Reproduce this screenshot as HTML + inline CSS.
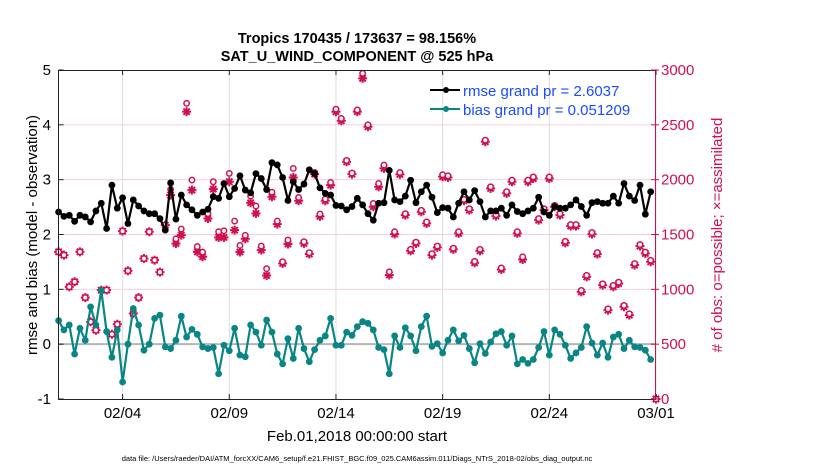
<!DOCTYPE html>
<html><head><meta charset="utf-8"><style>
html,body{margin:0;padding:0;background:#fff;}
svg{display:block;font-family:"Liberation Sans",Arial,sans-serif;}
</style></head><body>
<svg id="chart" width="830" height="470" viewBox="0 0 830 470" xmlns="http://www.w3.org/2000/svg">
<rect width="830" height="470" fill="#fff"/>
<text x="357" y="43" text-anchor="middle" font-size="14.5" font-weight="bold">Tropics 170435 / 173637 = 98.156%</text>
<text x="357" y="61" text-anchor="middle" font-size="14.5" font-weight="bold">SAT_U_WIND_COMPONENT @ 525 hPa</text>
<g id="grid"></g>
<g id="marks"></g>
<rect x="58.5" y="70.5" width="597" height="329" fill="none" stroke="#222" stroke-width="1"/>
<line x1="655.5" y1="70" x2="655.5" y2="400" stroke="#d0104c" stroke-width="1"/>
<g id="axes"></g>
<text transform="translate(37,235) rotate(-90)" text-anchor="middle" font-size="15">rmse and bias (model - observation)</text>
<text transform="translate(722,235) rotate(-90)" text-anchor="middle" font-size="15" fill="#d0104c"># of obs: o=possible; ×=assimilated</text>
<text x="357" y="441" text-anchor="middle" font-size="15">Feb.01,2018 00:00:00 start</text>
<text x="357" y="461" text-anchor="middle" font-size="7.5">data file: /Users/raeder/DAI/ATM_forcXX/CAM6_setup/f.e21.FHIST_BGC.f09_025.CAM6assim.011/Diags_NTrS_2018-02/obs_diag_output.nc</text>
<g>
<line x1="430" y1="90" x2="460" y2="90" stroke="#000" stroke-width="2"/>
<circle cx="446" cy="90" r="3" fill="#000"/>
<text x="463" y="96" font-size="15" fill="#1a4cff">rmse grand pr = 2.6037</text>
<line x1="430" y1="109" x2="460" y2="109" stroke="#0a8585" stroke-width="2"/>
<circle cx="446" cy="109" r="3" fill="#0a8585"/>
<text x="463" y="115" font-size="15" fill="#1a4cff">bias grand pr = 0.051209</text>
</g>
</svg>
<script>
const rmse=[2.41,2.33,2.35,2.24,2.35,2.32,2.23,2.43,2.57,2.11,2.9,2.48,2.67,2.2,2.63,2.52,2.43,2.38,2.38,2.29,2.08,2.94,2.28,2.72,2.54,2.45,2.35,2.41,2.46,
2.69,2.66,2.93,2.69,2.84,3.07,2.81,2.76,3.11,3.02,2.82,3.31,3.27,3.04,2.62,2.96,2.82,2.92,3.18,3.11,2.85,2.75,2.72,2.53,2.52,2.45,2.51,2.66,
2.54,2.38,2.26,2.57,2.58,3.17,2.63,2.6,2.7,2.99,2.58,2.78,2.9,2.68,2.4,2.49,2.48,2.32,2.57,2.78,2.63,2.8,2.6,2.32,2.43,2.43,2.48,2.35,
2.54,2.42,2.38,2.43,2.48,2.68,2.41,2.35,2.51,2.48,2.48,2.54,2.63,2.51,2.35,2.58,2.6,2.57,2.57,2.7,2.57,2.93,2.7,2.62,2.9,2.37,2.78];
const bias=[0.43,0.26,0.35,-0.18,0.29,0.07,0.68,0.35,0.98,0.23,-0.24,0.26,-0.69,0,0.65,0.35,-0.11,0,0.47,0.53,-0.05,-0.08,0.07,0.51,0.13,0.27,0.18,-0.05,-0.08,
-0.06,-0.54,-0.02,-0.12,0.29,-0.2,-0.23,0.35,0.22,-0.02,0.44,0.22,-0.18,-0.36,0.1,-0.26,0.29,-0.08,-0.32,-0.1,0.07,0.15,0.47,-0.02,-0.02,0.22,0.16,0.32,
0.41,0.38,0.26,-0.06,-0.1,-0.54,0.15,-0.06,0.3,0.15,-0.12,0.32,0.51,-0.04,0.01,-0.16,0.07,0.26,0.06,0.16,-0.08,-0.34,0.01,-0.17,0.04,0.19,0.23,-0.02,
0.15,-0.36,-0.28,-0.35,-0.28,-0.06,0.23,-0.2,0.26,0.18,-0.02,-0.26,-0.16,-0.06,0.32,0.02,-0.2,0.02,-0.24,0.13,0.18,-0.08,0.07,-0.05,-0.06,-0.11,-0.28];
const obsAssim=[1342,1312,1023,1069,1342,925,704,627,993,993,591,682,1531,1169,780,925,1281,1525,1266,1157,1586,1859,1418,1494,2620,1905,1342,1297,1646,
1914,1473,1473,1981,1540,1340,1461,1789,1692,1358,1126,1844,1595,1236,1413,2020,1808,1419,1322,2050,1665,1808,1950,2619,2537,2163,2050,2620,
2924,2483,1753,1935,2103,1130,1504,2048,1677,1351,1418,1707,1601,1312,1382,2027,2020,1364,1510,1808,1722,1242,1351,2346,1920,1668,1181,1875,
1981,1510,1272,1981,2011,1631,1722,2011,1753,1677,1424,1577,1577,977,1114,1504,1321,1038,810,1023,1053,841,765,1221,1394,1327,1251,0];
const obsPoss=[1342,1312,1023,1069,1342,925,704,627,993,993,591,682,1531,1169,780,925,1281,1525,1266,1157,1586,1911,1460,1550,2696,1996,1390,1340,1690,
1981,1525,1534,2057,1622,1400,1492,1850,1759,1395,1188,1886,1622,1252,1449,2102,1838,1434,1334,2066,1686,1823,1975,2643,2558,2175,2060,2636,
2970,2500,1783,1965,2133,1160,1525,2065,1690,1365,1430,1720,1615,1325,1395,2045,2035,1375,1525,1820,1735,1255,1365,2360,1935,1680,1195,1890,
1995,1525,1296,1995,2025,1645,1735,2025,1765,1690,1438,1590,1590,990,1128,1518,1335,1050,822,1035,1065,853,777,1235,1408,1340,1265,0];
const leftTicks=[-1,0,1,2,3,4,5];
const rightTicks=[0,500,1000,1500,2000,2500,3000];
const xTickDays=[3,8,13,18,23,28];
const xTickLabels=["02/04","02/09","02/14","02/19","02/24","03/01"];

const NS="http://www.w3.org/2000/svg";
const X0=58.6, X1=656, Y0=399, Y1=70;
const xDay=d=>X0+d*(X1-X0)/28;
const yL=v=>Y0-(v+1)*(Y0-Y1)/6;
const yR=n=>Y0-n*(Y0-Y1)/3000;
function mk(tag,attrs,parent){const e=document.createElementNS(NS,tag);for(const k in attrs)e.setAttribute(k,attrs[k]);parent.appendChild(e);return e;}
const grid=document.getElementById('grid'),marks=document.getElementById('marks'),axes=document.getElementById('axes');

leftTicks.forEach(v=>{
  const y=yL(v);
  if(v!==-1&&v!==5){const g=mk('line',{x1:X0,x2:X1,y1:y,y2:y,stroke:'#f5cfdc','stroke-width':1},grid);
  
  }
  const t=mk('text',{x:51,y:y+5,'text-anchor':'end','font-size':15},axes);t.textContent=v;
  
  
  mk('line',{x1:X0,x2:X0+5,y1:y,y2:y,stroke:'#222'},axes);
});
rightTicks.forEach(n=>{
  const y=yR(n);
  const t=mk('text',{x:661,y:y+5,'font-size':15,fill:'#d0104c'},axes);t.textContent=n;
  
  
  mk('line',{x1:X1-5,x2:X1+3,y1:y,y2:y,stroke:'#d0104c'},axes);
});
xTickDays.forEach((d,i)=>{
  const x=xDay(d);
  const g=mk('line',{x1:x,x2:x,y1:Y1,y2:Y0,stroke:'#dcdcdc','stroke-width':1},grid);
  
  
  mk('line',{x1:x,x2:x,y1:Y0,y2:Y0-5,stroke:'#222'},axes);
  mk('line',{x1:x,x2:x,y1:Y1,y2:Y1+5,stroke:'#222'},axes);
  const t=mk('text',{x:x,y:418,'text-anchor':'middle','font-size':15},axes);t.textContent=xTickLabels[i];
  
  
});
const z=mk('line',{x1:X0,x2:X1,y1:yL(0),y2:yL(0),stroke:'#b5b5b5','stroke-width':2},grid);



const M='#d0104c';
obsAssim.forEach((n,i)=>{
  const x=xDay(i/4),y=yR(n);
  const g=mk('g',{stroke:M,'stroke-width':2},marks);
  
  
  const r=4.5;
  mk('line',{x1:x-r,x2:x+r,y1:y,y2:y},g);
  mk('line',{x1:x,x2:x,y1:y-r,y2:y+r},g);
  mk('line',{x1:x-r*0.7,x2:x+r*0.7,y1:y-r*0.7,y2:y+r*0.7},g);
  mk('line',{x1:x-r*0.7,x2:x+r*0.7,y1:y+r*0.7,y2:y-r*0.7},g);
});
obsPoss.forEach((n,i)=>{
  const c=mk('circle',{cx:xDay(i/4),cy:yR(n),r:2.7,fill:'#fff',stroke:M,'stroke-width':1.5},marks);
  
  
});
function series(vals,color,name){
  const pts=vals.map((v,i)=>xDay(i/4).toFixed(1)+','+yL(v).toFixed(1)).join(' ');
  const p=mk('polyline',{points:pts,fill:'none',stroke:color,'stroke-width':2.2,'stroke-linejoin':'round'},marks);
  
  
  vals.forEach((v,i)=>{
    const c=mk('circle',{cx:xDay(i/4),cy:yL(v),r:3.4,fill:color},marks);
    
    
  });
}
series(bias,'#0a8585','bias');
series(rmse,'#000','rmse');
</script>
</body></html>
